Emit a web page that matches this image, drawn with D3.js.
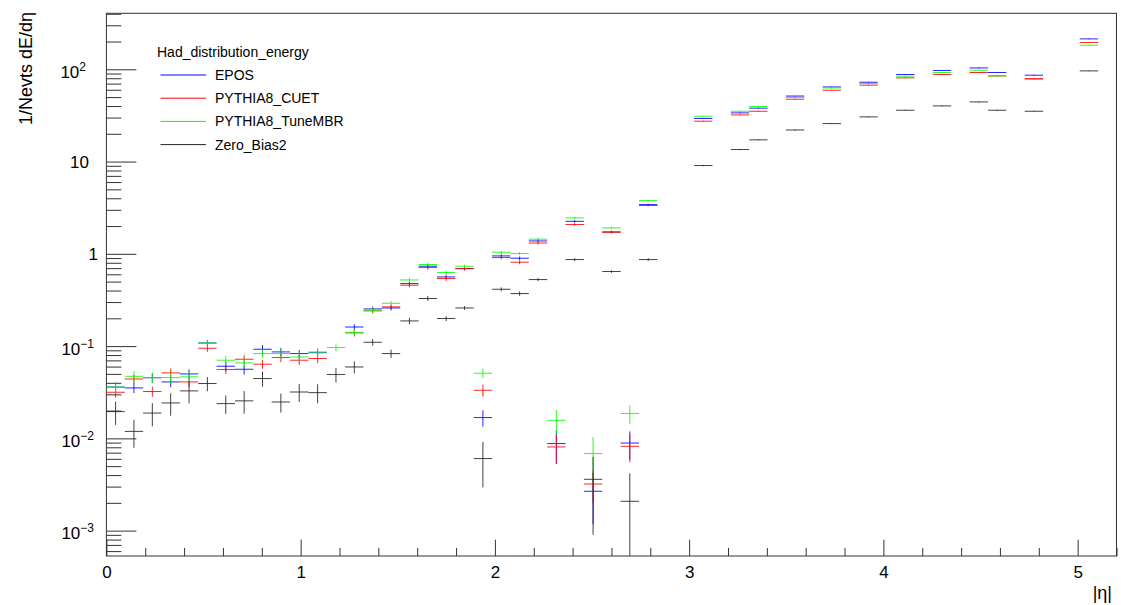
<!DOCTYPE html>
<html>
<head>
<meta charset="utf-8">
<script src="https://cdn.jsdelivr.net/npm/d3@7"></script>
<style>
  body { margin: 0; background: #fff; }
  text { font-family: "Liberation Sans", Arial, Helvetica, sans-serif; fill: #000; }
</style>
</head>
<body>
<svg id="chart" width="1121" height="605"></svg>
<script>
// histogram binning: 55 bins on |eta| in [0, 5.2]
const nBins = 55, etaMin = 0, etaMax = 5.2;
const binIndex = [0,1,2,3,4,5,6,7,8,9,10,11,12,13,14,15,16,17,18,19,20,21,22,23,24,25,26,27,28,29,32,34,35,37,39,41,43,45,47,48,50,53];

const epos = [0.036,0.0352,0.0454,0.0409,0.0499,0.108,0.0605,0.0561,0.0924,0.0865,0.083,0.0858,null,0.161,0.253,0.259,0.476,0.734,0.562,0.692,0.0168,0.949,0.896,1.38,0.00878,2.25,0.00267,1.73,0.0089,3.42,29.3,33.7,37.9,50.2,64.4,72.4,87.9,97.1,103.5,92.3,86.3,213.6];
const eposErr = [0.004,0.0042,0.005,0.005,0.006,0.008,0.007,0.007,0.01,0.009,0.008,0.008,null,0.012,0.015,0.015,0.025,0.035,0.03,0.03,0.0034,0.04,0.04,0.05,0.0035,0.07,0.0015,0.05,0.003,0.08,0.3,0.35,0.4,0.5,0.6,0.7,0.8,0.9,1.0,1.0,0.9,2.0];

const cuet = [0.0316,0.044,0.0322,0.0512,0.0409,0.0948,0.0557,0.072,0.0636,0.0751,0.0703,0.0733,null,0.139,0.241,0.266,0.457,0.71,0.54,0.692,0.0332,0.912,0.811,1.31,0.00807,2.08,0.0032,1.71,0.0082,3.34,27.4,32.0,35.1,47.4,59.3,67.3,80.7,87.9,92.3,84.8,79.4,195.2];
const cuetErr = [0.004,0.005,0.004,0.006,0.005,0.008,0.006,0.008,0.007,0.008,0.008,0.008,null,0.012,0.015,0.016,0.025,0.035,0.03,0.03,0.005,0.04,0.04,0.05,0.0027,0.07,0.0012,0.05,0.0027,0.08,0.3,0.35,0.4,0.5,0.6,0.7,0.8,0.9,1.0,1.0,0.9,2.0];

const mbr = [0.036,0.0471,0.0456,0.0456,0.0464,0.108,0.0703,0.0657,0.083,0.083,0.0762,0.0842,0.0964,0.141,0.245,0.291,0.521,0.766,0.627,0.734,0.0508,1.04,1.007,1.44,0.0157,2.45,0.00684,1.91,0.0186,3.78,31.0,35.1,39.5,52.0,62.8,70.1,84.2,92.3,97.8,84.8,77.5,182.5];
const mbrErr = [0.005,0.007,0.006,0.006,0.006,0.009,0.008,0.008,0.009,0.009,0.008,0.009,0.008,0.012,0.015,0.017,0.027,0.035,0.03,0.03,0.006,0.04,0.04,0.05,0.0047,0.07,0.0035,0.05,0.0042,0.08,0.3,0.35,0.4,0.5,0.6,0.7,0.8,0.9,1.0,1.0,0.9,2.0];

const zeroBias = [0.0195,0.0119,0.0188,0.0242,0.0327,0.0393,0.0238,0.0255,0.0445,0.0248,0.0318,0.0313,0.0492,0.0594,0.110,0.083,0.1874,0.328,0.199,0.259,0.00604,0.413,0.371,0.526,null,0.867,0.0036,0.643,0.00208,0.867,9.06,13.5,17.2,22.0,25.8,30.5,36.0,40.1,44.3,36.0,35.1,96.1];
const zeroBiasErr = [0.0055,0.004,0.0053,0.0066,0.0087,0.0068,0.0054,0.007,0.0083,0.0058,0.007,0.0073,0.0089,0.0088,0.009,0.0085,0.015,0.02,0.012,0.012,0.0031,0.02,0.02,0.02,null,0.03,0.0027,0.02,0.0021,0.03,0.15,0.2,0.2,0.3,0.3,0.3,0.4,0.4,0.4,0.4,0.4,0.8];

const seriesNames = ["EPOS", "PYTHIA8_CUET", "PYTHIA8_TuneMBR", "Zero_Bias2"];
const seriesColors = ["#0000ff", "#ff0000", "#00ff00", "#222222"];
const seriesValues = [epos, cuet, mbr, zeroBias];
const seriesErrors = [eposErr, cuetErr, mbrErr, zeroBiasErr];

const xTickValues = [0, 1, 2, 3, 4, 5];
const xTickLabels = ["0", "1", "2", "3", "4", "5"];
const yTickValues = [1e-3, 1e-2, 1e-1, 1, 10, 100];
const yTickLabels = ["10^-3", "10^-2", "10^-1", "1", "10", "10^2"];

const legendHeader = "Had_distribution_energy";
const xTitle = "|\u03b7|";
const yTitle = "1/Nevts dE/d\u03b7";

// frame
const frameL = 106.4, frameR = 1116.5, frameT = 13.3, frameB = 556;
const svg = d3.select("#chart");

const x = d3.scaleLinear().domain([etaMin, etaMax]).range([frameL, frameR]);
const y = d3.scaleLog().domain([Math.pow(10, -3.275), Math.pow(10, 2.607)]).range([frameB, frameT]).clamp(true);
const binW = (etaMax - etaMin) / nBins;

// minor ticks
const xMinor = d3.range(0, 5.2001, 0.2).filter(v => Math.abs(v - Math.round(v)) > 1e-6);
const yMinor = [];
for (let e = -4; e <= 2; e++) for (let m = 2; m <= 9; m++) {
  const v = m * Math.pow(10, e);
  if (v > y.domain()[0] && v < y.domain()[1]) yMinor.push(v);
}

const axisColor = "#333";
function styleAxis(g) {
  g.select(".domain").remove();
  g.selectAll(".tick line").attr("stroke", axisColor).attr("stroke-width", 1);
}

svg.append("g").attr("transform", `translate(0,${frameB})`)
  .call(d3.axisBottom(x).tickValues(xMinor).tickSizeInner(-8).tickSizeOuter(0).tickFormat(""))
  .call(styleAxis);
svg.append("g").attr("transform", `translate(0,${frameB})`)
  .call(d3.axisBottom(x).tickValues(xTickValues).tickSizeInner(-16.3).tickSizeOuter(0).tickPadding(10)
    .tickFormat((d, i) => xTickLabels[i]))
  .call(styleAxis)
  .call(g => g.attr("font-family", null).selectAll("text").attr("font-size", 17).attr("fill", "#000"));

svg.append("g").attr("transform", `translate(${frameL},0)`)
  .call(d3.axisLeft(y).tickValues(yMinor).tickSizeInner(-15).tickSizeOuter(0).tickFormat(""))
  .call(styleAxis);
svg.append("g").attr("transform", `translate(${frameL},0)`)
  .call(d3.axisLeft(y).tickValues(yTickValues).tickSizeInner(-30).tickSizeOuter(0).tickFormat(""))
  .call(styleAxis);

// y labels with superscripts (ROOT-like placement)
yTickValues.forEach((v, i) => {
  const parts = yTickLabels[i].split("^");
  const neg = parts.length > 1 && parts[1].startsWith("-");
  const endX = parts.length > 1 ? (neg ? 94 : 86) : (parts[0] === "1" ? 98 : 89);
  const t = svg.append("text").attr("text-anchor", "end").attr("font-size", 17)
    .attr("x", endX)
    .attr("y", y(v) + (parts.length > 1 ? 8.5 : 6.5));
  t.append("tspan").text(parts[0]);
  if (parts.length > 1) {
    t.append("tspan").attr("font-size", 12).attr("dy", -7).text(parts[1].replace("-", "\u2212"));
  }
});

// frame box
svg.append("rect").attr("x", frameL).attr("y", frameT).attr("width", frameR - frameL).attr("height", frameB - frameT)
  .attr("fill", "none").attr("stroke", axisColor).attr("stroke-width", 1);

// titles
svg.append("text").attr("text-anchor", "end").attr("font-size", 18)
  .attr("transform", `translate(32,12) rotate(-90)`).text(yTitle);
svg.append("text").attr("text-anchor", "end").attr("font-size", 18)
  .attr("x", 1112).attr("y", 599).text(xTitle);

// histograms with error bars
const plot = svg.append("g");
seriesValues.forEach((vals, s) => {
  const pts = binIndex.map((b, i) => ({ b, v: vals[i], e: seriesErrors[s][i] })).filter(d => d.v != null);
  const g = plot.append("g").attr("stroke", seriesColors[s]).attr("stroke-width", 1).attr("stroke-opacity", 0.85);
  g.selectAll("line.h").data(pts).join("line").attr("class", "h")
    .attr("x1", d => x(etaMin + d.b * binW)).attr("x2", d => x(etaMin + (d.b + 1) * binW))
    .attr("y1", d => y(d.v)).attr("y2", d => y(d.v));
  g.selectAll("line.v").data(pts).join("line").attr("class", "v")
    .attr("x1", d => x(etaMin + (d.b + 0.5) * binW)).attr("x2", d => x(etaMin + (d.b + 0.5) * binW))
    .attr("y1", d => y(d.v + d.e)).attr("y2", d => d.v - d.e > 0 ? y(d.v - d.e) : frameB);
});

// legend
const legend = svg.append("g");
legend.append("text").attr("x", 157).attr("y", 57).attr("font-size", 14).text(legendHeader);
seriesNames.forEach((name, i) => {
  const ly = 75 + i * 23.2;
  legend.append("line").attr("x1", 160.5).attr("x2", 206).attr("y1", ly).attr("y2", ly)
    .attr("stroke", seriesColors[i]).attr("stroke-width", 1);
  legend.append("text").attr("x", 215).attr("y", ly + 5).attr("font-size", 14).text(name);
});
</script>
</body>
</html>
